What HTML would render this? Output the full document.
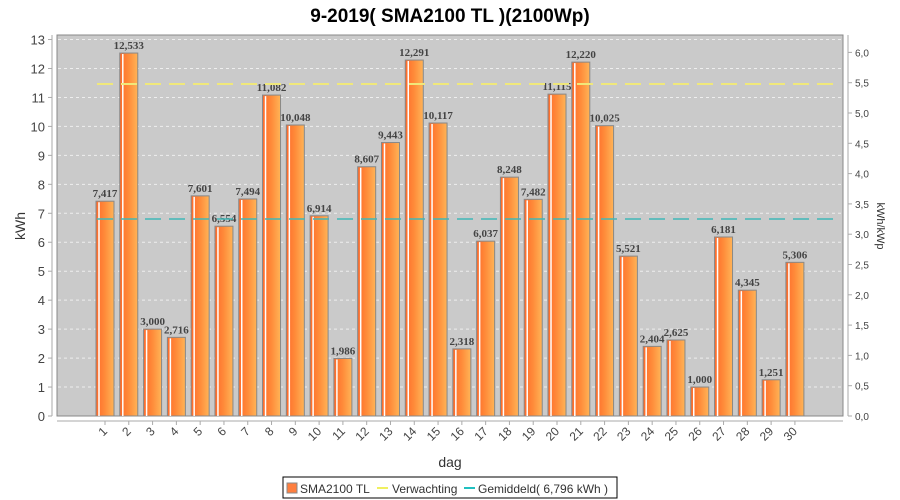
<!DOCTYPE html>
<html><head><meta charset="utf-8"><style>
body{margin:0;background:#fff;width:900px;height:500px;overflow:hidden}
svg{display:block;font-family:"Liberation Sans",sans-serif}
</style></head><body>
<svg id="c" width="900" height="500" xmlns="http://www.w3.org/2000/svg">
<defs>
<linearGradient id="g" x1="0" x2="1" y1="0" y2="0">
<stop offset="0" stop-color="#ff6a2a"/><stop offset="0.5" stop-color="#ff8c3a"/><stop offset="1" stop-color="#ffb457"/>
</linearGradient>
</defs>
<rect x="0" y="0" width="900" height="500" fill="#fff"/>
<text x="450" y="22" text-anchor="middle" font-size="19" font-weight="bold" fill="#000">9-2019( SMA2100 TL )(2100Wp)</text>
<rect x="57" y="35" width="786" height="381" fill="#cacaca" stroke="#888" stroke-width="1"/>
<g id="grid"></g>
<g id="bars"></g>
<line x1="97" y1="84" x2="833" y2="84" stroke="#f0e87a" stroke-width="2" stroke-dasharray="16,8"/>
<line x1="97" y1="219" x2="833" y2="219" stroke="#40b8b8" stroke-width="1.5" stroke-dasharray="16,8"/>
<line x1="52" y1="35" x2="52" y2="416" stroke="#aaa"/>
<line x1="848" y1="35" x2="848" y2="416" stroke="#aaa"/>
<line x1="57" y1="421" x2="843" y2="421" stroke="#aaa"/>
<g id="ax"></g>
<text transform="translate(25,226) rotate(-90)" text-anchor="middle" font-size="14" fill="#333">kWh</text>
<text transform="translate(877,226) rotate(90)" text-anchor="middle" font-size="11" fill="#333">kWh/kWp</text>
<text x="450" y="467" text-anchor="middle" font-size="14" fill="#333">dag</text>
<rect x="283" y="477" width="334" height="21" fill="#fff" stroke="#000"/>
<rect x="287" y="483" width="10" height="10" fill="#ff7f3f" stroke="#888"/>
<text x="300" y="493" font-size="12" fill="#333">SMA2100 TL</text>
<line x1="377" y1="488" x2="388" y2="488" stroke="#f0f060" stroke-width="2"/>
<text x="392" y="493" font-size="12" fill="#333">Verwachting</text>
<line x1="464" y1="488" x2="475" y2="488" stroke="#20c0c0" stroke-width="2"/>
<text x="478" y="493" font-size="12" fill="#333">Gemiddeld( 6,796 kWh )</text>
</svg>
<script>
var v=[7.417,12.533,3.000,2.716,7.601,6.554,7.494,11.082,10.048,6.914,1.986,8.607,9.443,12.291,10.117,2.318,6.037,8.248,7.482,11.115,12.220,10.025,5.521,2.404,2.625,1.000,6.181,4.345,1.251,5.306];
var ns="http://www.w3.org/2000/svg";
function el(p,t,a,txt){var e=document.createElementNS(ns,t);for(var k in a)e.setAttribute(k,a[k]);if(txt!=null)e.textContent=txt;document.getElementById(p).appendChild(e);}
var y0=416,s=28.96;
for(var i=0;i<=13;i++){var y=y0-i*s;
 if(i>0)el("grid","line",{x1:58,x2:842,y1:y,y2:y,stroke:"#eee","stroke-dasharray":"3,3"});
 el("ax","line",{x1:48,x2:52,y1:y,y2:y,stroke:"#aaa"});
 el("ax","text",{x:45,y:y+5,"text-anchor":"end","font-size":13,fill:"#444"},""+i);}
for(var j=0;j<=12;j++){var y=y0-j*30.3;
 el("ax","line",{x1:848,x2:852,y1:y,y2:y,stroke:"#aaa"});
 el("ax","text",{x:855,y:y+4,"font-size":10,fill:"#444"},(j/2).toFixed(1).replace(".",","));}
for(var i=0;i<30;i++){var cx=105+i*23.79,h=v[i]*s,y=y0-h;
 el("bars","rect",{x:cx-9,y:y,width:18,height:h,fill:"url(#g)",stroke:"#888","stroke-width":1});
 el("bars","line",{x1:cx-6,x2:cx-6,y1:y+1,y2:y0,stroke:"#fff","stroke-width":1.5});
 el("bars","text",{x:cx,y:y-4,"text-anchor":"middle","font-size":11,"font-weight":"bold","font-family":"Liberation Serif,serif",fill:"#444"},v[i].toFixed(3).replace(".",","));
 el("ax","line",{x1:cx,x2:cx,y1:421,y2:425,stroke:"#aaa"});
 el("ax","text",{transform:"translate("+(cx+3)+",432) rotate(-45)","text-anchor":"end","font-size":12,fill:"#444"},""+(i+1));}
</script>
</body></html>
